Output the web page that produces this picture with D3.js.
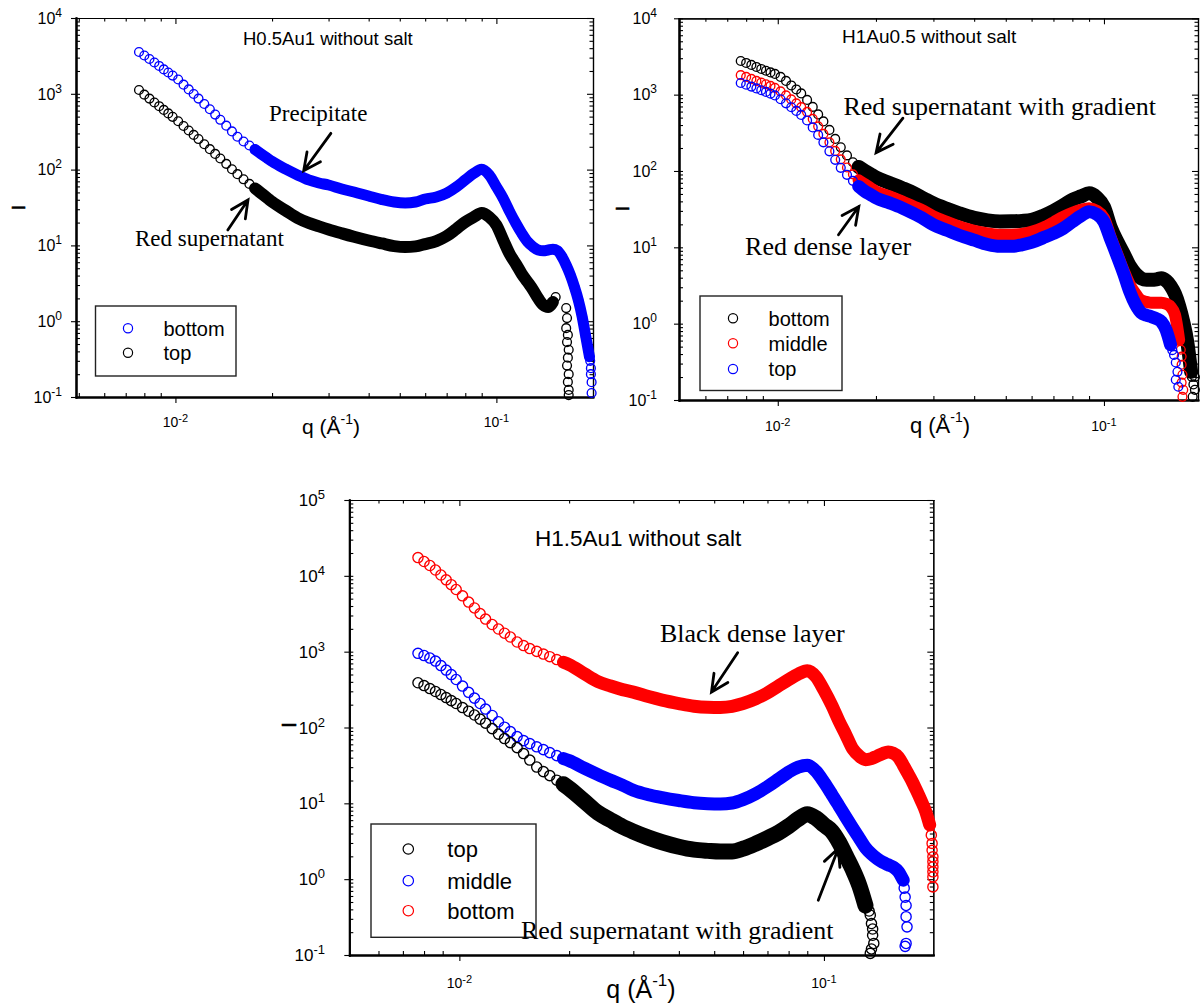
<!DOCTYPE html>
<html><head><meta charset="utf-8">
<script src="https://cdn.jsdelivr.net/npm/d3@7"></script>
<style>body{margin:0;background:#fff}svg{display:block}</style>
</head><body>
<svg id="chart" width="1201" height="1005"></svg>
<script>
// ---------------- DATA ----------------
// shared q grid (Å^-1); each intensity array is aligned with it and ends where the series ends
const qGrid = [0.0077,0.008,0.0083,0.0086,0.0089,0.0092,0.0095,0.0098,0.0102,0.0106,0.011,0.0114,0.0118,0.0123,0.0128,0.0133,0.0138,0.0144,0.015,0.0156,0.0163,0.017,0.0177,0.0185,0.0193,0.02,0.022,0.024,0.026,0.028,0.03,0.033,0.036,0.04,0.044,0.048,0.052,0.056,0.06,0.065,0.07,0.075,0.08,0.085,0.09,0.095,0.1,0.105,0.11,0.115,0.12,0.125,0.13,0.135,0.14,0.145,0.15,0.155,0.16,0.165,0.17,0.175,0.18,0.185,0.19,0.195];

// Panel 1: H0.5Au1 without salt
const p1Bottom = [3560,3200,2880,2590,2330,2100,1910,1740,1545,1320,1143,993,864,733,626,532,454,380,319,271,235,208,184,161,142,128,102,85,73,66.6,62.7,55.5,50.6,44.8,40.3,37.4,36.3,37.4,40.9,43.5,49,59,73,89,101,85,59.4,41.8,27.9,19.6,14.4,11.2,9.6,8.7,8.5,8.7,8.9,8.5,7.1,5.5,4.07,2.85,1.9,1.15,0.62,0.34];
const p1Top = [1122,975,864,767,686,613,551,497,434,376,328,287,253,216,186,161,140,119,101,87,74.5,64.8,56.5,48.8,42.4,37.6,29,23,19.8,17.8,16.2,14.4,13.0,11.6,10.6,9.8,9.5,9.7,10.4,11.4,13.3,16.5,20.4,23.7,26.8,23.7,18.6,11.8,7.7,5.7,4.2,3.3,2.6,2.0,1.64,1.54,1.79];
const p1BottomTail = [[0.196,0.30],[0.197,0.24],[0.197,0.20],[0.198,0.157],[0.198,0.113]];
const p1TopTail = [[0.153,2.08],[0.165,1.49],[0.166,1.10],[0.165,0.81],[0.167,0.66],[0.166,0.53],[0.168,0.42],[0.167,0.33],[0.166,0.26],[0.168,0.20],[0.167,0.158],[0.168,0.124],[0.168,0.106]];

// Panel 2: H1Au0.5 without salt
const p2Bottom = [2760,2600,2450,2305,2170,2055,1953,1867,1706,1512,1319,1169,1037,853,691,551,446,345,263,204,160,130,113,100,90,82.5,69.8,60,51.7,43.8,37.6,31.9,27.9,24.3,22.5,21.8,21.9,22.2,22.9,25.8,30,35.5,41.9,46.5,51,45.2,33.9,18,11.8,8.2,5.7,4.5,3.93,3.75,3.75,3.81,3.93,3.65,3.13,2.46,1.71,1.06,0.58,0.234];
const p2Middle = [1800,1706,1607,1512,1436,1368,1300,1224,1102,977,865,767,686,594,481,384,306,237,183,142,111,90.3,75.4,66.8,59.2,54,46.5,40,34.4,30.1,25.5,21.6,18.8,16.4,15.2,14.6,14.6,15.0,16.0,18.0,21.2,25.1,28.3,31,32.6,30.1,24.3,13.3,8.0,4.9,3.23,2.46,2.02,1.93,1.88,1.88,1.88,1.82,1.66,1.31,0.61];
const p2Top = [1422,1349,1274,1206,1142,1085,1031,977,871,769,684,612,542,459,372,297,237,181,140,110,89,74.2,62.8,54,48.7,44.4,38.2,32.9,27.9,23.6,19.7,16.7,14.4,12.4,10.9,10.3,10.3,10.8,11.6,13.3,15.2,17.7,21.6,25.8,29.2,27.1,21.6,12.5,7.5,4.5,2.62,1.77,1.39,1.29,1.23,1.16,1.06,0.83,0.53];
const p2BottomTail = [[0.180,0.45],[0.182,0.37],[0.184,0.27],[0.186,0.2],[0.188,0.16],[0.19,0.136],[0.187,0.11],[0.19,0.2]];
const p2MiddleTail = [[0.172,0.455],[0.173,0.37],[0.173,0.29],[0.174,0.214],[0.173,0.169],[0.175,0.136],[0.174,0.11]];
const p2TopTail = [[0.162,0.45],[0.164,0.39],[0.166,0.31],[0.168,0.234],[0.166,0.184],[0.169,0.149]];

// Panel 3: H1.5Au1 without salt
const p3Bottom = [17400,15440,13680,11930,10250,8860,7650,6600,5450,4510,3770,3180,2690,2280,1988,1750,1560,1340,1203,1099,1009,929,859,787,725,676,514,403,352,316,293,256,230,207,191,185,184,190,207,239,286,352,428,506,560,469,311,198,121,79,51.9,42,37.7,38.9,42,45.3,47.4,45.9,40.7,31.9,24.6,19,14.3,10.7,7.9,5.2];
const p3Middle = [951,889,824,752,656,572,499,429,352,291,244,207,175,144,119,101,88.3,75.9,67.1,61.3,55.6,51.1,46.6,42.6,38.9,36.6,29.1,23.9,20.2,17.4,14.9,13.0,11.9,10.9,10.2,9.9,9.8,10.1,11.2,13.4,16.6,20.8,25.8,30.1,31.9,26.6,19.0,13.2,9.2,6.5,4.7,3.47,2.6,2.14,1.86,1.67,1.55,1.44,1.26,0.97];
const p3Top = [389,357,326,298,272,248,226,207,183,164,146,129,114,96.7,81.8,71.4,63.2,54.3,45.3,37.2,30.1,26.2,23.2,20.2,17.9,15.8,10.7,7.5,6.0,4.93,4.24,3.53,3.07,2.68,2.45,2.36,2.31,2.31,2.52,2.94,3.47,4.10,5.0,6.2,7.2,6.4,5.2,4.30,3.07,2.01,1.33,0.83,0.45];
const p3BottomTail = [[0.197,3.8],[0.198,2.96],[0.198,2.4],[0.199,1.97],[0.199,1.7],[0.199,1.45],[0.199,1.25],[0.199,1.07],[0.199,0.79]];
const p3MiddleTail = [[0.166,0.76],[0.167,0.58],[0.168,0.45],[0.168,0.32],[0.169,0.235],[0.168,0.142],[0.167,0.13]];
const p3TopTail = [[0.133,0.38],[0.134,0.335],[0.135,0.26],[0.136,0.22],[0.136,0.182],[0.137,0.142],[0.135,0.12],[0.134,0.105]];

// annotations in data coordinates [q, I]
const p1Notes = [{text:'Precipitate', at:[0.01957,438]}, {text:'Red supernatant', at:[0.00748,9.8]}];
const p1Arrows = [[[0.0305,301],[0.0251,96.7]], [[0.01456,16],[0.01683,39.7]]];
const p2Notes = [{text:'Red supernatant with gradient', at:[0.0159,542]}, {text:'Red dense layer', at:[0.00794,7.98]}];
const p2Arrows = [[[0.02419,491],[0.02002,174]], [[0.01535,14.6],[0.01772,34.2]]];
const p3Notes = [{text:'Black dense layer', at:[0.03549,1327]}, {text:'Red supernatant with gradient', at:[0.01475,0.165]}];
const p3Arrows = [[[0.05798,967],[0.04915,293]], [[0.09647,0.528],[0.1095,2.54]]];

// ---------------- LAYOUT / STYLE ----------------
const SANS = "'Liberation Sans', Arial, sans-serif";
const SERIF = "'Liberation Serif', 'Times New Roman', serif";
const BLUE = '#0000ff', RED = '#ff0000', BLACK = '#000000';

const panels = [
  { qDomain:[0.0049,0.2], iDomain:[0.1,1e4], x0:76, x1:593, y0:18, y1:397, r:4.4, bandFrom:0.0177,
    yTickFs:16, ySupFs:12, yTickEnd:62, xTickFs:14, xSupFs:11, xTickBase:427,
    title:{text:'H0.5Au1 without salt', x:243, y:45, fs:18.5},
    qLabel:{cx:331, y:434, fs:21, supFs:14}, iLabel:{x:25, y:207.5, fs:19},
    legend:{box:[95.5,306,140.5,70], cx:128, tx:163.5, ys:[328.3,352.7], fs:20, r:4.6},
    annFs:23,
    series:[{name:'bottom', v:p1Bottom, tail:p1BottomTail, color:BLUE, band:11},
            {name:'top', v:p1Top, tail:p1TopTail, color:BLACK, band:12}],
    legendOrder:[0,1], notes:p1Notes, arrows:p1Arrows },
  { qDomain:[0.00498,0.1942], iDomain:[0.1,1e4], x0:679, x1:1198, y0:18.3, y1:400, r:4.4, bandFrom:0.0177,
    yTickFs:16, ySupFs:12, yTickEnd:657, xTickFs:14, xSupFs:11, xTickBase:431,
    title:{text:'H1Au0.5 without salt', x:842, y:43, fs:19},
    qLabel:{cx:940, y:433, fs:22, supFs:14}, iLabel:{x:629, y:208.5, fs:19},
    legend:{box:[700,296,142,94.5], cx:733, tx:768.6, ys:[318.3,343.3,369], fs:20, r:4.6},
    annFs:26,
    series:[{name:'bottom', v:p2Bottom, tail:p2BottomTail, color:BLACK, band:14},
            {name:'middle', v:p2Middle, tail:p2MiddleTail, color:RED, band:12},
            {name:'top', v:p2Top, tail:p2TopTail, color:BLUE, band:13}],
    legendOrder:[0,1,2], notes:p2Notes, arrows:p2Arrows },
  { qDomain:[0.00499,0.1995], iDomain:[0.1,1e5], x0:349.3, x1:933.3, y0:500, y1:955, r:5.1, bandFrom:0.0193,
    yTickFs:17, ySupFs:13, yTickEnd:325, xTickFs:14, xSupFs:11, xTickBase:988,
    title:{text:'H1.5Au1 without salt', x:535, y:546, fs:22.5},
    qLabel:{cx:641, y:998, fs:25, supFs:17}, iLabel:{x:296, y:725, fs:21},
    legend:{box:[371,824,165,113.3], cx:408.3, tx:447.3, ys:[849,880.7,910.7], fs:22, r:5.2},
    annFs:26,
    series:[{name:'bottom', v:p3Bottom, tail:p3BottomTail, color:RED, band:13},
            {name:'middle', v:p3Middle, tail:p3MiddleTail, color:BLUE, band:13},
            {name:'top', v:p3Top, tail:p3TopTail, color:BLACK, band:16}],
    legendOrder:[2,1,0], notes:p3Notes, arrows:p3Arrows }
];

// ---------------- DRAW ----------------
const svg = d3.select('#chart');
svg.append('rect').attr('width',1201).attr('height',1005).attr('fill','#fff');

function minorValues(dom){
  const out=[];
  for(let k=-6;k<=6;k++) for(let m=2;m<=9;m++){ const v=+(m*Math.pow(10,k)).toPrecision(6); if(v>dom[0]&&v<dom[1]) out.push(v); }
  return out;
}
function majorValues(dom){
  const out=[];
  for(let k=-6;k<=6;k++){ const v=Math.pow(10,k); if(v>=dom[0]*0.999&&v<=dom[1]*1.001) out.push(v); }
  return out;
}
function addAxis(g, gen, transform, sw){
  const a = g.append('g').attr('transform', transform).call(gen);
  a.selectAll('text').remove();
  a.selectAll('line').attr('stroke','#000').attr('stroke-width',1.1);
  a.select('path.domain').attr('stroke','#000').attr('stroke-width',sw).attr('stroke-linecap','square');
  return a;
}
function pow10(sel, exp, fs, supFs, supDy){
  sel.append('tspan').attr('font-size',fs).text('10');
  sel.append('tspan').attr('font-size',supFs).attr('dy',supDy).text(String(exp));
}

panels.forEach(P => {
  const x = d3.scaleLog().domain(P.qDomain).range([P.x0,P.x1]);
  const y = d3.scaleLog().domain(P.iDomain).range([P.y1,P.y0]);
  const g = svg.append('g');

  const xMaj = majorValues(P.qDomain);
  const xMin = minorValues(P.qDomain).filter(v => x(v) > P.x0+2 && x(v) < P.x1-2);
  const yMaj = majorValues(P.iDomain);
  const yMin = minorValues(P.iDomain);

  // axes (ticks on all four sides)
  addAxis(g, d3.axisBottom(x).tickValues(xMin).tickSize(-4).tickSizeOuter(0), `translate(0,${P.y1})`, 1.8);
  addAxis(g, d3.axisBottom(x).tickValues(xMaj).tickSize(6).tickSizeOuter(0), `translate(0,${P.y1})`, 1.8);
  addAxis(g, d3.axisTop(x).tickValues(xMin).tickSize(-3.5).tickSizeOuter(0), `translate(0,${P.y0})`, 1.2);
  addAxis(g, d3.axisTop(x).tickValues(xMaj).tickSize(-6).tickSizeOuter(0), `translate(0,${P.y0})`, 1.2);
  addAxis(g, d3.axisLeft(y).tickValues(yMin).tickSize(-4).tickSizeOuter(0), `translate(${P.x0},0)`, 1.8);
  addAxis(g, d3.axisLeft(y).tickValues(yMaj).tickSize(5).tickSizeOuter(0), `translate(${P.x0},0)`, 1.8);
  addAxis(g, d3.axisLeft(y).tickValues(yMaj).tickSize(-4).tickSizeOuter(0), `translate(${P.x0},0)`, 1.8);
  addAxis(g, d3.axisRight(y).tickValues(yMin).tickSize(-3.5).tickSizeOuter(0), `translate(${P.x1},0)`, 1.2);
  addAxis(g, d3.axisRight(y).tickValues(yMaj).tickSize(-6).tickSizeOuter(0), `translate(${P.x1},0)`, 1.2);

  // y tick labels
  yMaj.forEach(v => {
    const t = g.append('text').attr('x',P.yTickEnd).attr('y',y(v)+0.36*P.yTickFs)
      .attr('text-anchor','end').attr('font-family',SANS).attr('fill','#000');
    pow10(t, Math.round(Math.log10(v)), P.yTickFs, P.ySupFs, -7);
  });
  // x tick labels
  xMaj.forEach(v => {
    const t = g.append('text').attr('x',x(v)).attr('y',P.xTickBase)
      .attr('text-anchor','middle').attr('font-family',SANS).attr('fill','#000');
    pow10(t, Math.round(Math.log10(v)), P.xTickFs, P.xSupFs, -5);
  });

  // axis titles
  const ql = g.append('text').attr('x',P.qLabel.cx).attr('y',P.qLabel.y).attr('text-anchor','middle')
    .attr('font-family',SANS).attr('font-size',P.qLabel.fs).attr('fill','#000');
  ql.append('tspan').text('q (Å');
  ql.append('tspan').attr('font-size',P.qLabel.supFs).attr('dy',-0.5*P.qLabel.fs).text('-1');
  ql.append('tspan').attr('dy',0.5*P.qLabel.fs).text(')');
  g.append('text').attr('transform',`translate(${P.iLabel.x},${P.iLabel.y}) rotate(-90)`)
    .attr('text-anchor','middle').attr('font-family',SANS).attr('font-size',P.iLabel.fs)
    .attr('fill','#000').attr('stroke','#000').attr('stroke-width',0.6).text('I');

  // panel title
  g.append('text').attr('x',P.title.x).attr('y',P.title.y).attr('font-family',SANS)
    .attr('font-size',P.title.fs).attr('fill','#000').text(P.title.text);

  // data series
  const line = d3.line().x(d => x(d[0])).y(d => y(d[1])).curve(d3.curveMonotoneX);
  P.series.forEach(s => {
    const pts = s.v.map((v,i) => [qGrid[i], v]);
    const dense = pts.filter(p => p[0] >= P.bandFrom);
    g.append('path').datum(dense).attr('d', line).attr('fill','none')
      .attr('stroke', s.color).attr('stroke-width', s.band)
      .attr('stroke-linecap','round').attr('stroke-linejoin','round');
    g.append('g').selectAll('circle').data(pts.concat(s.tail)).join('circle')
      .attr('cx', d => x(d[0])).attr('cy', d => y(d[1])).attr('r', P.r)
      .attr('fill','none').attr('stroke', s.color).attr('stroke-width', 1.35);
  });

  // legend
  const L = P.legend;
  g.append('rect').attr('x',L.box[0]).attr('y',L.box[1]).attr('width',L.box[2]).attr('height',L.box[3])
    .attr('fill','#fff').attr('stroke','#222').attr('stroke-width',1.4);
  P.legendOrder.forEach((si, k) => {
    const s = P.series[si];
    g.append('circle').attr('cx',L.cx).attr('cy',L.ys[k]).attr('r',L.r)
      .attr('fill','none').attr('stroke',s.color).attr('stroke-width',1.2);
    g.append('text').attr('x',L.tx).attr('y',L.ys[k]+0.36*L.fs).attr('font-family',SANS)
      .attr('font-size',L.fs).attr('fill','#000').text(s.name);
  });

  // annotations
  P.notes.forEach(n => {
    g.append('text').attr('x',x(n.at[0])).attr('y',y(n.at[1])).attr('font-family',SERIF)
      .attr('font-size',P.annFs).attr('fill','#000').text(n.text);
  });
  P.arrows.forEach(a => {
    const tx = x(a[0][0]), ty = y(a[0][1]), hx = x(a[1][0]), hy = y(a[1][1]);
    const ang = Math.atan2(ty-hy, tx-hx), len = 19, spread = 26*Math.PI/180;
    const p1 = [hx+len*Math.cos(ang+spread), hy+len*Math.sin(ang+spread)];
    const p2 = [hx+len*Math.cos(ang-spread), hy+len*Math.sin(ang-spread)];
    g.append('path').attr('d', `M${tx},${ty}L${hx},${hy}M${p1[0]},${p1[1]}L${hx},${hy}L${p2[0]},${p2[1]}`)
      .attr('fill','none').attr('stroke','#000').attr('stroke-width',2.8)
      .attr('stroke-linecap','round').attr('stroke-linejoin','miter');
  });
});
</script>
</body></html>
